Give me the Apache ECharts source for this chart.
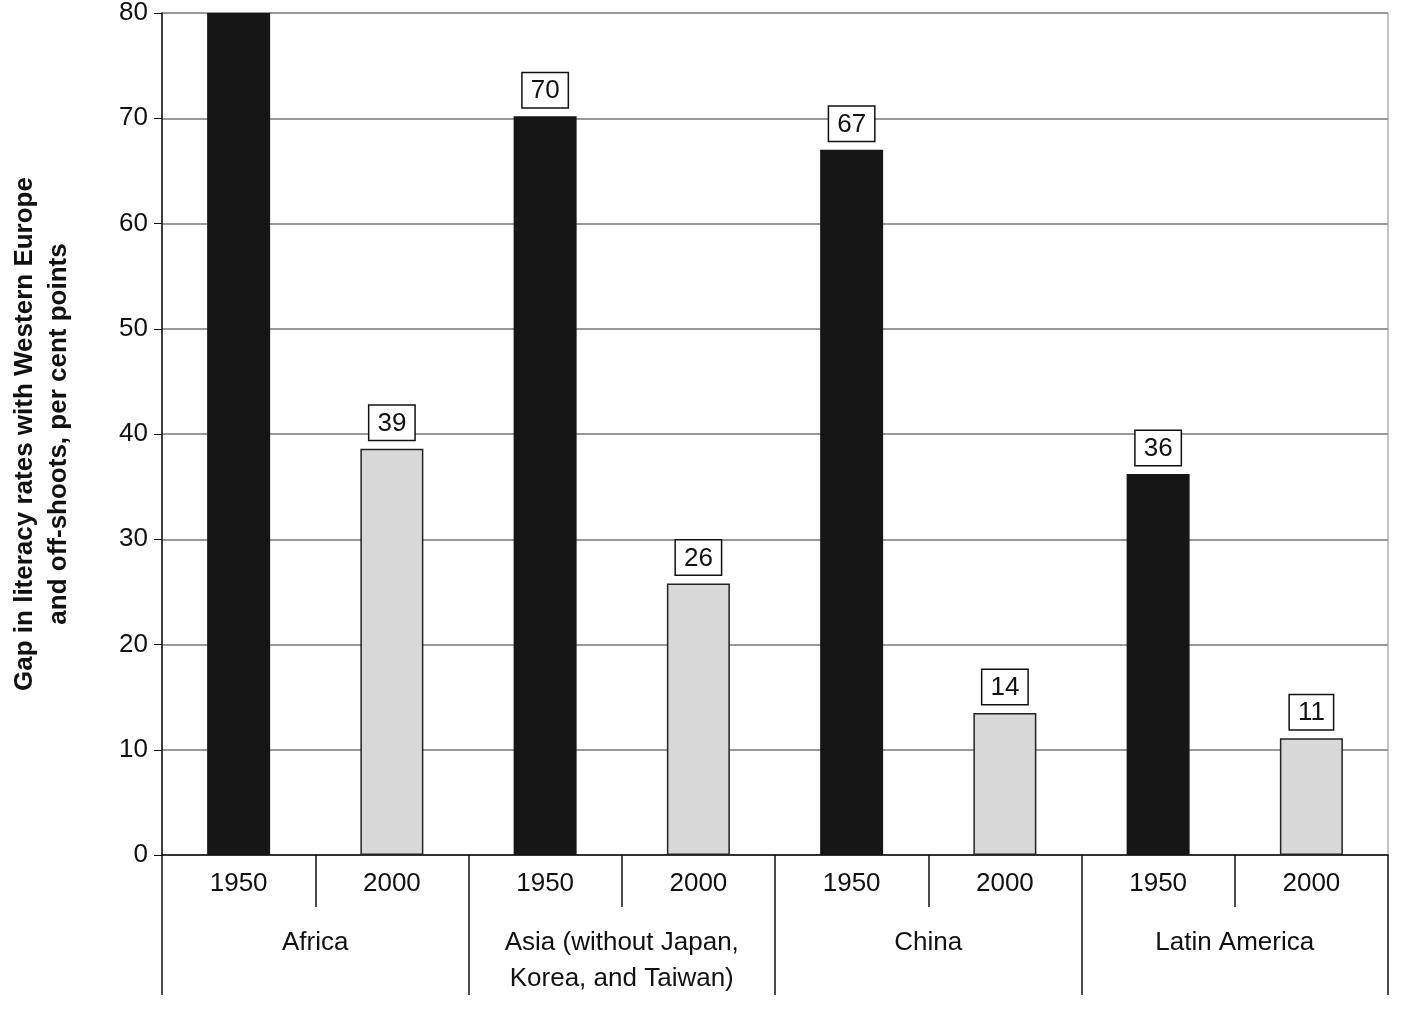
<!DOCTYPE html>
<html><head><meta charset="utf-8">
<script src="https://cdn.jsdelivr.net/npm/echarts@6/dist/echarts.min.js"></script>
<style>html,body{margin:0;padding:0;background:#fff}#c{width:1410px;height:1013px}</style>
</head><body><div id="c"></div>
<script>
const years = ['1950','2000','1950','2000','1950','2000','1950','2000'];
const regions = ['Africa','Asia (without Japan,\nKorea, and Taiwan)','China','Latin America'];
const values = [80, 38.6, 70.2, 25.8, 67, 13.5, 36.2, 11.1];
const showLabel = [false, true, true, true, true, true, true, true];
const yTicks = {min:0, max:80, interval:10};

const chart = echarts.init(document.getElementById('c'));
const font = 'Liberation Sans, Arial, sans-serif';
chart.setOption({
  animation:false,
  grid:{left:155, right:22, top:6, bottom:158, show:true, borderColor:'#888', borderWidth:1},
  xAxis:[
    {type:'category', data:years, position:'bottom',
     axisLine:{lineStyle:{color:'#111', width:1.5}},
     axisTick:{show:true, length:52, lineStyle:{color:'#111', width:1.5}},
     axisLabel:{fontSize:26, color:'#111', margin:16, fontFamily:font}},
    {type:'category', data:regions, position:'bottom', offset:0,
     axisLine:{show:false},
     axisTick:{show:true, length:140, lineStyle:{color:'#111', width:1.5}},
     axisLabel:{fontSize:26, color:'#111', margin:70, lineHeight:36, fontFamily:font, verticalAlign:'top'}}
  ],
  yAxis:{type:'value', min:yTicks.min, max:yTicks.max, interval:yTicks.interval,
    name:'Gap in literacy rates with Western Europe\nand off-shoots, per cent points',
    nameLocation:'middle', nameGap:86, nameRotate:90,
    nameTextStyle:{fontSize:26, fontWeight:'bold', color:'#111', fontFamily:font, lineHeight:34},
    axisLine:{show:true, lineStyle:{color:'#111', width:1.5}},
    axisTick:{show:true, length:8, lineStyle:{color:'#111'}},
    axisLabel:{fontSize:26, color:'#111', margin:14, fontFamily:font},
    splitLine:{lineStyle:{color:'#999', width:2}}},
  series:[{
    type:'bar', xAxisIndex:0, barWidth:63,
    data: values.map((v,i)=>({value:v,
      itemStyle: i%2===0 ? {color:'#161616'} : {color:'#d8d8d8', borderColor:'#222', borderWidth:1.5},
      label:{show:showLabel[i]}})),
    label:{position:'top', distance:9, formatter:p=>Math.round(p.value),
      fontSize:26, color:'#111', fontFamily:font, backgroundColor:'#fff',
      borderColor:'#111', borderWidth:1.5, padding:[5,8,3,8]}
  }]
});
</script></body></html>
